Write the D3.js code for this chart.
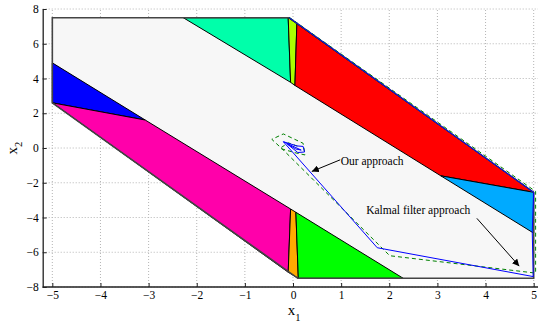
<!DOCTYPE html>
<html><head><meta charset="utf-8">
<script src="https://cdn.jsdelivr.net/npm/d3@7"></script>
<style>body{margin:0;background:#fff}svg{display:block}</style>
</head><body>
<svg id="c" width="538" height="325"></svg>
<script>
// ---- data ----
const xTicks = [-5,-4,-3,-2,-1,0,1,2,3,4,5];
const yTicks = [-8,-6,-4,-2,0,2,4,6,8];
const outerRegion = [[-5,7.5],[-0.08,7.5],[5,-2.55],[5,-7.5],[0.1,-7.5],[-5,2.6]];
const blueRegion = [[-5,4.9],[-5,2.6],[-3.07,1.61]];
const magentaRegion = [[-5,2.6],[-3.07,1.61],[-0.05,-3.51],[-0.1,-7.15]];
const orangeRegion = [[-0.05,-3.51],[0.06,-3.7],[0.11,-7.5],[-0.1,-7.15]];
const greenRegion = [[0.06,-3.7],[0.11,-7.5],[2.29,-7.5]];
const tealRegion = [[-2.28,7.5],[-0.1,7.5],[-0.05,3.78]];
const yellowRegion = [[-0.1,7.5],[0.08,7.15],[0.04,3.6],[-0.05,3.78]];
const redRegion = [[0.08,7.15],[0.04,3.6],[3.07,-1.6],[5,-2.55]];
const cyanRegion = [[3.07,-1.6],[5,-2.55],[5,-4.9]];
const regionColors = ["#0000ff","#ff00aa","#ffaa00","#00ff00","#00ffaa","#aaff00","#ff0000","#00aaff"];
const ourX = [-0.08,5.0,4.97,4.99,1.75,-0.2,0.08,0.21,0.24,0.10,-0.12,0.06,0.17,-0.2];
const ourY = [7.5,-2.55,-4.8,-7.4,-5.74,0.36,0.12,0.09,-0.23,-0.26,0.23,-0.06,-0.12,0.36];
const kfX = [-0.08,5.04,5.04,2.01,-0.2,-0.44,-0.2,0.21,0.25,0.04,-0.27,-0.1,0.1];
const kfY = [7.52,-2.5,-7.2,-6.2,-0.12,0.5,0.81,0.27,-0.4,-0.27,-0.02,0.3,0.1];
const annotations = [
  {text:"Our approach", tx:0.99, ty:-0.95, ax:0.98, ay:-0.68, hx:0.39, hy:-1.35},
  {text:"Kalmal filter approach", tx:1.52, ty:-3.81, ax:3.82, ay:-4.05, hx:4.7, hy:-6.8}
];

// ---- chart ----
const svg = d3.select("#c");
const x = d3.scaleLinear().domain([-5.2,5.1]).range([42.7,538.5]);
const y = d3.scaleLinear().domain([-8,8]).range([287,9]);
const font = "'Liberation Serif','Times New Roman',serif";

// grid
const g = svg.append("g");
g.selectAll(".gx").data(xTicks).join("line")
  .attr("x1",d=>x(d)).attr("x2",d=>x(d)).attr("y1",y(-8)).attr("y2",y(8))
  .attr("stroke","#b5b5b5").attr("stroke-width",1).attr("stroke-dasharray","1,2");
g.selectAll(".gy").data(yTicks).join("line")
  .attr("y1",d=>y(d)).attr("y2",d=>y(d)).attr("x1",x(-5.2)).attr("x2",538)
  .attr("stroke","#b5b5b5").attr("stroke-width",1).attr("stroke-dasharray","1,2");

const line = d3.line().x(d=>x(d[0])).y(d=>y(d[1]));
const closed = pts => line(pts) + "Z";

svg.append("path").attr("d",closed(outerRegion)).attr("fill","#f7f7f7").attr("stroke","none");
const regions = [blueRegion,magentaRegion,orangeRegion,greenRegion,tealRegion,yellowRegion,redRegion,cyanRegion];
svg.selectAll(".reg").data(regions).join("path")
  .attr("d",d=>closed(d)).attr("fill",(d,i)=>regionColors[i])
  .attr("stroke","#000").attr("stroke-width",1).attr("stroke-linejoin","round");
svg.append("path").attr("d",closed(outerRegion)).attr("fill","none")
  .attr("stroke","#444").attr("stroke-width",1.6);

// trajectories
const kfPts = kfX.map((v,i)=>[v,kfY[i]]);
const ourPts = ourX.map((v,i)=>[v,ourY[i]]);
svg.append("path").attr("d",line(kfPts)).attr("fill","none")
  .attr("stroke","#008000").attr("stroke-width",1).attr("stroke-dasharray","4,3");
svg.append("path").attr("d",line(ourPts)).attr("fill","none")
  .attr("stroke","#0000ff").attr("stroke-width",1).attr("stroke-linejoin","round");

// annotations
svg.append("defs").append("marker").attr("id","ah").attr("viewBox","0 0 10 10")
  .attr("refX",10).attr("refY",5).attr("markerWidth",7).attr("markerHeight",7)
  .attr("orient","auto-start-reverse").attr("markerUnits","userSpaceOnUse")
  .append("path").attr("d","M0,0L10,5L0,10Z").attr("fill","#000");
annotations.forEach(a=>{
  svg.append("line").attr("x1",x(a.ax)).attr("y1",y(a.ay)).attr("x2",x(a.hx)).attr("y2",y(a.hy))
    .attr("stroke","#000").attr("stroke-width",1).attr("marker-end","url(#ah)");
  svg.append("text").attr("x",x(a.tx)).attr("y",y(a.ty)).text(a.text)
    .attr("font-family",font).attr("font-size",11.5).attr("fill","#000");
});

// axes
const xa = svg.append("g").attr("transform",`translate(0,${y(-8)})`)
  .call(d3.axisBottom(x).tickValues(xTicks).tickSizeInner(-4).tickSizeOuter(0).tickPadding(4)
    .tickFormat(d=>d<0?"\u2212"+Math.abs(d):d));
const ya = svg.append("g").attr("transform",`translate(${x(-5.2)},0)`)
  .call(d3.axisLeft(y).tickValues(yTicks).tickSizeInner(-4).tickSizeOuter(0).tickPadding(4)
    .tickFormat(d=>d<0?"\u2212"+Math.abs(d):d));
[xa,ya].forEach(a=>{
  a.select(".domain").attr("stroke","#222").attr("stroke-width",1.3);
  a.selectAll(".tick line").attr("stroke","#222");
  a.selectAll("text").attr("font-family",font).attr("font-size",11.5).attr("fill","#000");
});
xa.select(".domain").attr("d",`M${x(-5.2)},0H538`);

// axis labels
const xl = svg.append("text").attr("x",294).attr("y",315).attr("text-anchor","middle")
  .attr("font-family",font).attr("font-size",15);
xl.append("tspan").text("x");
xl.append("tspan").attr("dy",6).attr("font-size",10.5).text("1");
const yl = svg.append("text").attr("transform","translate(17,148) rotate(-90)").attr("text-anchor","middle")
  .attr("font-family",font).attr("font-size",15);
yl.append("tspan").text("x");
yl.append("tspan").attr("dy",5).attr("font-size",10.5).text("2");
</script>
</body></html>
